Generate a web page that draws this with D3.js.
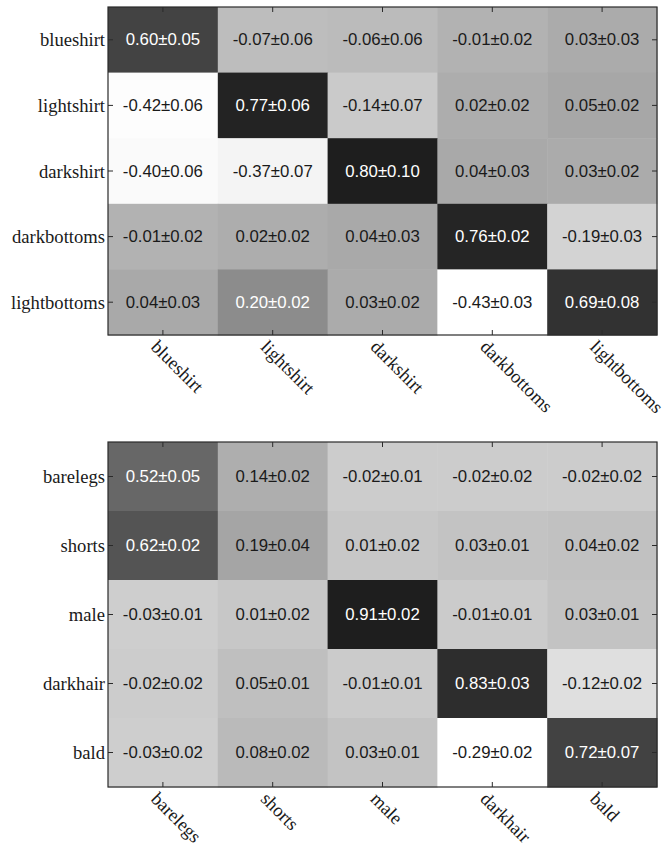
<!DOCTYPE html>
<html>
<head>
<meta charset="utf-8">
<script src="https://cdn.jsdelivr.net/npm/d3@7"></script>
<style>
  html, body { margin: 0; padding: 0; background: #fff; }
  svg { display: block; }
</style>
</head>
<body>
<svg id="chart" width="664" height="844"></svg>
<script>
// Clothing attributes: correlation mean and spread
const topLabels = ["blueshirt", "lightshirt", "darkshirt", "darkbottoms", "lightbottoms"];
const topMean = [
  [0.60, -0.07, -0.06, -0.01, 0.03],
  [-0.42, 0.77, -0.14, 0.02, 0.05],
  [-0.40, -0.37, 0.80, 0.04, 0.03],
  [-0.01, 0.02, 0.04, 0.76, -0.19],
  [0.04, 0.20, 0.03, -0.43, 0.69]
];
const topErr = [
  [0.05, 0.06, 0.06, 0.02, 0.03],
  [0.06, 0.06, 0.07, 0.02, 0.02],
  [0.06, 0.07, 0.10, 0.03, 0.02],
  [0.02, 0.02, 0.03, 0.02, 0.03],
  [0.03, 0.02, 0.02, 0.03, 0.08]
];

// Body / hair attributes: correlation mean and spread
const bottomLabels = ["barelegs", "shorts", "male", "darkhair", "bald"];
const bottomMean = [
  [0.52, 0.14, -0.02, -0.02, -0.02],
  [0.62, 0.19, 0.01, 0.03, 0.04],
  [-0.03, 0.01, 0.91, -0.01, 0.03],
  [-0.02, 0.05, -0.01, 0.83, -0.12],
  [-0.03, 0.08, 0.03, -0.29, 0.72]
];
const bottomErr = [
  [0.05, 0.02, 0.01, 0.02, 0.02],
  [0.02, 0.04, 0.02, 0.01, 0.02],
  [0.01, 0.02, 0.02, 0.01, 0.01],
  [0.02, 0.01, 0.01, 0.03, 0.02],
  [0.02, 0.02, 0.01, 0.02, 0.07]
];

const svg = d3.select("#chart");
const serif = "'Liberation Serif', 'Times New Roman', serif";
const sans = "'Liberation Sans', Arial, sans-serif";

function drawMatrix(labels, mean, err, box) {
  const g = svg.append("g");
  const x = d3.scaleBand().domain(labels).range([box.left, box.right]);
  const y = d3.scaleBand().domain(labels).range([box.top, box.bottom]);
  const flat = mean.flat();
  const gray = d3.scaleLinear()
    .domain([d3.min(flat), d3.max(flat)])
    .range([255, 30]);

  const cells = [];
  labels.forEach((r, i) => labels.forEach((c, j) => {
    cells.push({ row: r, col: c, v: mean[i][j], e: err[i][j] });
  }));

  g.selectAll("rect.cell").data(cells).join("rect")
    .attr("class", "cell")
    .attr("x", d => x(d.col))
    .attr("y", d => y(d.row))
    .attr("width", x.bandwidth() + 0.5)
    .attr("height", y.bandwidth() + 0.5)
    .attr("fill", d => { const k = Math.round(gray(d.v)); return d3.rgb(k, k, k); });

  g.selectAll("text.val").data(cells).join("text")
    .attr("class", "val")
    .attr("x", d => x(d.col) + x.bandwidth() / 2)
    .attr("y", d => y(d.row) + y.bandwidth() / 2)
    .attr("text-anchor", "middle")
    .attr("dominant-baseline", "central")
    .attr("font-family", sans)
    .attr("font-size", "16.8px")
    .attr("fill", d => gray(d.v) < 150 ? "#ffffff" : "#1a1a1a")
    .text(d => d.v.toFixed(2) + "\u00b1" + d.e.toFixed(2));

  // frame
  g.append("rect")
    .attr("x", box.left).attr("y", box.top)
    .attr("width", box.right - box.left).attr("height", box.bottom - box.top)
    .attr("fill", "none").attr("stroke", "#2a2a2a").attr("stroke-width", 1.2);

  // inward ticks on all four sides
  const tl = 5;
  const tickG = g.append("g").attr("stroke", "#2a2a2a").attr("stroke-width", 1);
  labels.forEach(l => {
    const cx = x(l) + x.bandwidth() / 2;
    const cy = y(l) + y.bandwidth() / 2;
    tickG.append("line").attr("x1", cx).attr("x2", cx).attr("y1", box.top).attr("y2", box.top + tl);
    tickG.append("line").attr("x1", cx).attr("x2", cx).attr("y1", box.bottom).attr("y2", box.bottom - tl);
    tickG.append("line").attr("y1", cy).attr("y2", cy).attr("x1", box.left).attr("x2", box.left + tl);
    tickG.append("line").attr("y1", cy).attr("y2", cy).attr("x1", box.right).attr("x2", box.right - tl);
  });

  // row labels
  g.selectAll("text.ylab").data(labels).join("text")
    .attr("class", "ylab")
    .attr("x", box.left - 3)
    .attr("y", d => y(d) + y.bandwidth() / 2)
    .attr("text-anchor", "end")
    .attr("dominant-baseline", "central")
    .attr("font-family", serif)
    .attr("font-size", "18.6px")
    .attr("fill", "#1a1a1a")
    .text(d => d);

  // column labels, slanted
  g.selectAll("text.xlab").data(labels).join("text")
    .attr("class", "xlab")
    .attr("transform", d => {
      const tx = x(d) + x.bandwidth() / 2 - 13;
      const ty = box.bottom + 13;
      return `translate(${tx},${ty}) rotate(45)`;
    })
    .attr("text-anchor", "start")
    .attr("font-family", serif)
    .attr("font-size", "18.6px")
    .attr("fill", "#1a1a1a")
    .text(d => d);
}

drawMatrix(topLabels, topMean, topErr, { left: 108, right: 657, top: 7, bottom: 335 });
drawMatrix(bottomLabels, bottomMean, bottomErr, { left: 108, right: 657, top: 442, bottom: 787 });
</script>
</body>
</html>
